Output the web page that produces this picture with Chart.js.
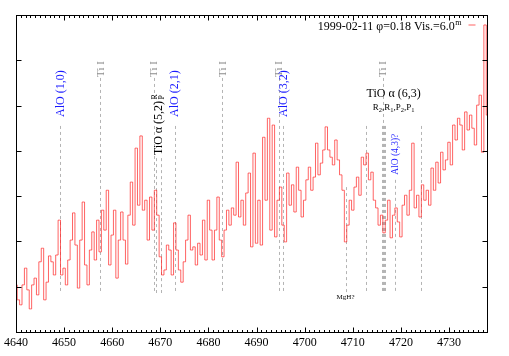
<!DOCTYPE html>
<html>
<head>
<meta charset="utf-8">
<script src="https://cdn.jsdelivr.net/npm/chart.js@4/dist/chart.umd.min.js"></script>
<style>
html,body{margin:0;padding:0;background:#fff;}
canvas{display:block;}
</style>
</head>
<body>
<canvas id="c" width="509" height="356"></canvas>
<script>
// ---------- data ----------
const WL_START = 4640.0;
const WL_STEP = 0.5;
const flux = [
 1.04,0.71,0.60,1.04,1.41,0.93,0.51,1.04,1.19,0.82,
 1.55,1.85,0.71,1.10,1.68,1.55,1.26,1.70,2.47,1.26,
 1.41,1.04,1.59,2.03,2.63,1.92,0.97,2.03,2.87,1.48,
 1.04,1.81,2.21,1.59,2.47,1.77,2.69,2.25,3.13,1.48,
 2.14,2.69,1.19,2.03,2.65,2.03,1.50,2.58,3.31,2.36,
 4.06,2.80,4.33,2.69,2.91,2.03,2.98,2.25,3.13,2.58,
 1.66,1.26,1.37,1.92,1.81,1.26,2.41,1.81,1.37,1.10,
 1.55,2.03,2.58,1.81,1.88,1.48,1.96,1.70,2.47,1.59,
 2.91,2.25,1.59,2.25,2.98,2.03,1.66,2.25,2.69,2.36,
 2.74,2.58,3.75,2.54,2.91,2.36,3.07,3.51,1.88,3.95,
 1.96,2.91,1.92,4.30,2.91,4.72,2.25,4.57,2.10,2.91,
 3.20,2.36,1.99,3.51,2.80,3.25,2.65,3.64,3.13,2.54,
 2.91,3.36,3.64,3.13,3.42,4.17,3.47,3.73,4.02,4.53,
 4.02,3.86,3.69,4.24,3.80,3.47,3.13,1.99,2.36,2.91,
 2.69,3.20,3.42,3.02,3.86,3.69,3.95,3.36,3.53,2.91,
 2.74,2.36,2.58,2.19,2.47,2.91,2.08,2.58,2.74,2.43,
 2.10,2.80,3.02,2.58,3.13,4.17,2.74,3.02,2.54,3.25,
 2.91,3.13,2.80,3.62,3.13,3.75,3.29,3.97,3.58,3.80,
 4.19,3.69,4.57,4.24,4.72,4.57,4.02,4.86,4.46,4.79,
 4.50,4.13,5.01,5.23,3.97,6.78,4.79
];
const wavelengths = flux.map((_, i) => WL_START + i * WL_STEP);

const X_MIN = 4640, X_MAX = 4737.9, X_MAJOR = 10, X_MINOR = 1;
const Y_MIN = 0, Y_MAX = 7;
const yTickValues = [1, 2, 3, 4, 5, 6];
const LINE_BOTTOM = 0.86;

// identified lines
const tiLines = [4657.5, 4668.7, 4682.9, 4694.6, 4716.3];
const tiLabel = 'Ti I';
const TI_TOP = 5.61;

const aloLines = [4649.2, 4673.0, 4695.6];
const aloLabels = ['AlO (1,0)', 'AlO (2,1)', 'AlO (3,2)'];
const ALO_TOP = 4.55;

const tio52Lines = [4669.0, 4670.1];
const tio52Label = 'TiO \u03b1 (5,2)';
const tio52Branches = ['R', 'P'];
const TIO52_TOP = 3.84;

const tio63Lines = [4716.0, 4716.2, 4716.4, 4716.6];
const tio63Label = 'TiO \u03b1 (6,3)';
const tio63Branches = [['R','2'],['R','1'],['P','2'],['P','1']];
const TIO63_TOP = 4.55;

const alo43Line = 4718.7;
const alo43Label = 'AlO (4,3)?';
const ALO43_TOP = 3.36;

const mghLine = 4708.5;
const mghLabel = 'MgH?';
const MGH_TOP = 3.20;

const plainLines = [4712.7, 4724.1];
const PLAIN_TOP = 4.55;

const legendMain = '1999-02-11 \u03c6=0.18 Vis.=6.0';
const legendSup = 'm';

// ---------- styles ----------
const SERIF = '"Liberation Serif","Times New Roman",serif';
const SPEC_COLOR = 'rgba(255,40,40,0.72)';
const DASH_COLOR = '#b4b4b4';
const BLUE = '#1a1aff';

function rotText(ctx, text, x, yBottom, size, color) {
  ctx.save();
  ctx.translate(x, yBottom);
  ctx.rotate(-Math.PI / 2);
  ctx.font = size + 'px ' + SERIF;
  ctx.fillStyle = color;
  ctx.textAlign = 'left';
  ctx.textBaseline = 'middle';
  ctx.fillText(text, 0, 0);
  const w = ctx.measureText(text).width;
  ctx.restore();
  return w;
}

const annot = {
  id: 'annot',
  beforeDatasetsDraw(chart) {
    const ctx = chart.ctx, xs = chart.scales.x, ys = chart.scales.y;
    const yb = ys.getPixelForValue(LINE_BOTTOM);
    ctx.save();
    ctx.strokeStyle = DASH_COLOR;
    ctx.lineWidth = 1;
    ctx.setLineDash([3, 3]);
    const vline = (wl, top) => {
      const x = Math.round(xs.getPixelForValue(wl)) + 0.5;
      ctx.beginPath();
      ctx.moveTo(x, ys.getPixelForValue(top));
      ctx.lineTo(x, yb);
      ctx.stroke();
    };
    tiLines.forEach(w => vline(w, TI_TOP));
    aloLines.forEach(w => vline(w, ALO_TOP));
    tio52Lines.forEach(w => vline(w, TIO52_TOP));
    tio63Lines.forEach(w => vline(w, TIO63_TOP));
    vline(alo43Line, ALO43_TOP);
    vline(mghLine, MGH_TOP);
    plainLines.forEach(w => vline(w, PLAIN_TOP));
    ctx.restore();
  },
  afterDatasetsDraw(chart) {
    const ctx = chart.ctx, xs = chart.scales.x, ys = chart.scales.y;
    const a = chart.chartArea;
    const L = Math.round(a.left) + 0.5, R = Math.round(a.right) + 0.5;
    const T = Math.round(a.top) + 0.5, B = Math.round(a.bottom) + 0.5;
    ctx.save();
    // frame
    ctx.strokeStyle = '#000';
    ctx.lineWidth = 1;
    ctx.setLineDash([]);
    ctx.strokeRect(L, T, R - L, B - T);
    // x ticks (bottom and top, inward)
    ctx.beginPath();
    for (let v = X_MIN; v <= X_MAX + 1e-6; v += X_MINOR) {
      const major = Math.abs((v - X_MIN) % X_MAJOR) < 1e-6;
      const len = major ? 5 : 2.5;
      const x = Math.round(xs.getPixelForValue(v)) + 0.5;
      ctx.moveTo(x, B); ctx.lineTo(x, B - len);
      ctx.moveTo(x, T); ctx.lineTo(x, T + len);
    }
    // y ticks (left and right, inward)
    yTickValues.forEach(v => {
      const y = Math.round(ys.getPixelForValue(v)) + 0.5;
      ctx.moveTo(L, y); ctx.lineTo(L + 5, y);
      ctx.moveTo(R, y); ctx.lineTo(R - 5, y);
    });
    ctx.stroke();

    // Ti I labels
    tiLines.forEach(w => {
      rotText(ctx, tiLabel, xs.getPixelForValue(w) + 0.5, ys.getPixelForValue(TI_TOP) - 1, 11, '#8c8c8c');
    });
    // AlO labels
    aloLines.forEach((w, i) => {
      rotText(ctx, aloLabels[i], xs.getPixelForValue(w) + 0.5, ys.getPixelForValue(ALO_TOP) - 9, 12, BLUE);
    });
    // TiO (5,2)
    {
      const xc = (xs.getPixelForValue(tio52Lines[0]) + xs.getPixelForValue(tio52Lines[1])) / 2 + 0.5;
      const yB = ys.getPixelForValue(TIO52_TOP) - 3;
      const w = rotText(ctx, tio52Label, xc, yB, 12, '#000');
      ctx.save();
      ctx.translate(xc, yB);
      ctx.rotate(-Math.PI / 2);
      ctx.font = '8px ' + SERIF;
      ctx.fillStyle = '#000';
      ctx.textAlign = 'left';
      ctx.textBaseline = 'middle';
      ctx.fillText(tio52Branches[0], w + 1.5, -4);
      ctx.fillText(tio52Branches[1], w + 1.5, 3);
      ctx.restore();
    }
    // TiO (6,3)
    {
      const xc = xs.getPixelForValue(tio63Lines[1]) + 11;
      const yTop = ys.getPixelForValue(TIO63_TOP);
      ctx.fillStyle = '#000';
      ctx.textAlign = 'center';
      ctx.textBaseline = 'alphabetic';
      ctx.font = '12px ' + SERIF;
      ctx.fillText(tio63Label, xc, yTop - 29);
      // branch string with subscripts
      const big = '9px ' + SERIF, small = '6.5px ' + SERIF;
      const parts = [];
      tio63Branches.forEach((b, i) => {
        parts.push([b[0], big, 0]);
        parts.push([b[1], small, 2.5]);
        if (i < tio63Branches.length - 1) parts.push([',', big, 0]);
      });
      let total = 0;
      parts.forEach(p => { ctx.font = p[1]; total += ctx.measureText(p[0]).width; });
      let x = xc - total / 2;
      ctx.textAlign = 'left';
      parts.forEach(p => {
        ctx.font = p[1];
        ctx.fillText(p[0], x, yTop - 16 + p[2]);
        x += ctx.measureText(p[0]).width;
      });
    }
    // AlO (4,3)?
    rotText(ctx, alo43Label, xs.getPixelForValue(alo43Line) + 0.5, ys.getPixelForValue(ALO43_TOP) - 5, 9.5, BLUE);
    // MgH?
    ctx.fillStyle = '#000';
    ctx.font = '7px ' + SERIF;
    ctx.textAlign = 'center';
    ctx.textBaseline = 'top';
    ctx.fillText(mghLabel, xs.getPixelForValue(mghLine), ys.getPixelForValue(LINE_BOTTOM) + 1);

    // legend
    {
      const xr = R - 26, yb = T + 14;
      ctx.font = '8px ' + SERIF;
      const ws = ctx.measureText(legendSup).width;
      ctx.font = '12px ' + SERIF;
      ctx.textAlign = 'right';
      ctx.textBaseline = 'alphabetic';
      ctx.fillStyle = '#000';
      ctx.fillText(legendMain, xr - ws - 0.5, yb);
      ctx.font = '8px ' + SERIF;
      ctx.textAlign = 'left';
      ctx.fillText(legendSup, xr - ws, yb - 5);
      ctx.strokeStyle = SPEC_COLOR;
      ctx.beginPath();
      ctx.moveTo(xr + 7, yb - 4.5);
      ctx.lineTo(xr + 14, yb - 4.5);
      ctx.stroke();
    }
    ctx.restore();
  }
};

new Chart(document.getElementById('c'), {
  type: 'line',
  data: {
    datasets: [{
      label: legendMain + legendSup,
      data: wavelengths.map((w, i) => ({ x: w, y: flux[i] })),
      borderColor: SPEC_COLOR,
      borderWidth: 1,
      pointRadius: 0,
      fill: false,
      stepped: 'middle',
      tension: 0
    }]
  },
  options: {
    responsive: false,
    devicePixelRatio: 1,
    animation: false,
    events: [],
    layout: { padding: { left: 14, right: 22, top: 15, bottom: 0 } },
    plugins: { legend: { display: false }, tooltip: { enabled: false } },
    scales: {
      x: {
        type: 'linear',
        min: X_MIN, max: X_MAX,
        grid: { display: false, drawTicks: false },
        border: { display: false },
        ticks: {
          stepSize: X_MAJOR, includeBounds: false, autoSkip: false, maxRotation: 0,
          padding: 4, color: '#000',
          font: { family: SERIF, size: 12 },
          callback: v => String(v)
        },
        afterFit: s => { s.height = 24; }
      },
      y: {
        type: 'linear', min: Y_MIN, max: Y_MAX, display: false
      }
    }
  },
  plugins: [annot]
});
</script>
</body>
</html>
